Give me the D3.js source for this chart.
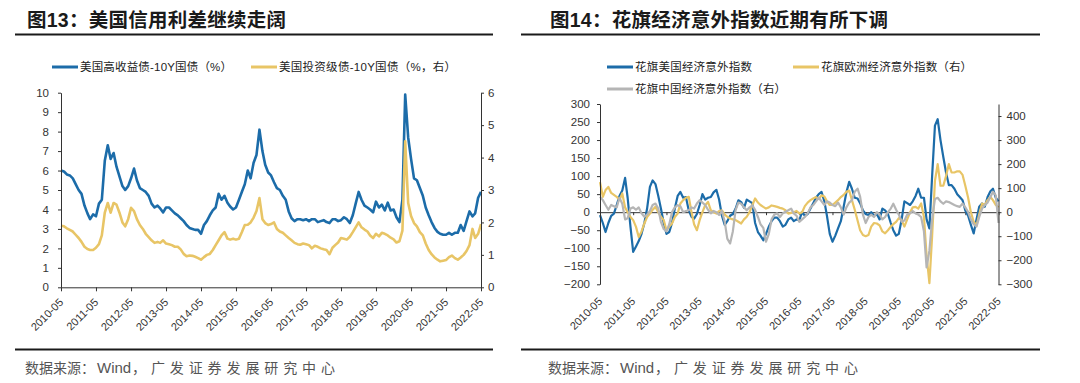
<!DOCTYPE html>
<html>
<head>
<meta charset="utf-8">
<script src="https://cdn.jsdelivr.net/npm/d3@7"></script>
<style>
  body { margin: 0; background: #fff; }
  svg { display: block; }
  text { font-family: "Liberation Sans", "Noto Sans CJK SC", sans-serif; }
</style>
</head>
<body>
<svg id="chart" width="1080" height="383"></svg>
<script>
// Données (lecture approximative du graphique, valeurs mensuelles 2010-05 -> 2022-05)
const tickLabels = ["2010-05", "2011-05", "2012-05", "2013-05", "2014-05", "2015-05", "2016-05",
  "2017-05", "2018-05", "2019-05", "2020-05", "2021-05", "2022-05"];

// 美国高收益债-10Y国债 (%)
const hySpread = [
  6.0, 5.95, 5.8, 5.75, 5.6, 5.3, 5.0, 4.8, 4.2, 3.8, 3.5, 3.75,
  3.65, 4.3, 4.5, 6.5, 7.3, 6.6, 6.9, 6.2, 5.7, 5.2, 5.0, 5.2,
  5.6, 6.1, 5.5, 5.1, 5.0, 4.9, 4.7, 4.3, 4.1, 4.2, 4.05, 3.85,
  4.1, 4.1, 3.95, 3.8, 3.7, 3.55, 3.4, 3.2, 3.05, 3.0, 2.95, 2.95,
  2.75, 3.2, 3.4, 3.7, 3.95, 4.1, 4.8, 4.5, 4.7, 4.35, 4.15, 4.0,
  4.1, 4.5, 4.9, 5.3, 6.0, 5.6, 6.4, 6.8, 8.1, 7.0, 6.3, 5.9,
  5.75, 5.4, 5.1, 5.0, 4.7, 4.5, 3.9, 3.55, 3.4, 3.5, 3.5, 3.45,
  3.5, 3.4, 3.5, 3.5, 3.35, 3.4, 3.45, 3.35, 3.3, 3.5, 3.5, 3.4,
  3.45, 3.6, 3.5, 3.3, 3.7, 4.3, 4.9, 4.5, 4.2, 4.1, 4.0, 3.85,
  4.4, 4.1, 4.25, 3.95, 4.35, 3.95, 4.0, 3.6, 3.35, 4.5, 9.9, 7.7,
  6.6, 5.6, 5.5, 5.1, 4.7, 4.1, 3.7, 3.35, 3.05, 2.85, 2.75, 2.7,
  2.7, 2.8, 2.7, 2.8, 2.8, 3.2, 2.9, 3.4, 3.9, 3.65, 3.8, 4.6,
  4.9
];

// 美国投资级债-10Y国债 (%, 右)
const igSpread = [
  1.9, 1.88, 1.82, 1.77, 1.72, 1.62, 1.52, 1.4, 1.25, 1.18, 1.15, 1.15,
  1.22, 1.33, 1.6, 2.3, 2.6, 2.3, 2.6, 2.55, 2.3, 2.0, 1.88, 2.1,
  2.45, 2.35, 2.1, 1.92, 1.8, 1.65, 1.55, 1.45, 1.37, 1.4, 1.37, 1.45,
  1.35, 1.33, 1.3, 1.25, 1.25, 1.17, 1.03, 0.96, 0.98, 0.97, 0.94, 0.9,
  0.85, 0.93, 1.0, 1.03, 1.15, 1.3, 1.45, 1.6, 1.7, 1.5, 1.47, 1.5,
  1.47, 1.5, 1.7, 1.92, 1.93, 2.0, 2.15, 2.35, 2.75, 2.1, 1.98, 1.92,
  1.95, 2.0, 1.8, 1.72, 1.68, 1.6, 1.52, 1.45, 1.37, 1.33, 1.31, 1.35,
  1.33, 1.3, 1.2, 1.28, 1.25, 1.2, 1.17, 1.15, 1.02, 1.22, 1.3, 1.38,
  1.52, 1.5, 1.47, 1.56, 1.7, 1.85, 2.0, 1.85, 1.78, 1.72, 1.6, 1.52,
  1.65, 1.57, 1.68, 1.65, 1.6, 1.53, 1.48, 1.38, 1.42, 1.75, 4.5, 2.6,
  2.2, 1.98, 1.88, 1.7, 1.6, 1.35, 1.15, 1.02, 0.92, 0.85, 0.8, 0.82,
  0.84, 0.93, 0.98, 0.9, 0.85, 0.92, 1.0, 1.12, 1.3, 1.8, 1.52, 1.65,
  1.95
];

// 花旗美国经济意外指数 (左)
const usSurprise = [
  -8, -30, -55, -30, -10, -4, 20, 45, 60, 95, 40, -40,
  -110, -95, -80, -60, -30, 10, 70, 88, 78, 45, 10, -30,
  -60, -55, -30, 10, 45, 56, 40, 42, 5, -13, -18, -5,
  20, 50, 35, 40, 42, 55, 62, 35, -10, -35, -25, -10,
  -5, 10, 33, 28, 12, 35, 30, 25, -30, -55, -65, -78,
  -60, -40, -25, -15, -15, -25, -40, -35, -20, -15, -25, -20,
  -22, 0, -10, -5, 10, 25, 40, 50, 56, 30, -10, -60,
  -82, -65, -45, -25, 15, 55, 84, 65, 40, 38, 25, 5,
  -5, -8, 0, -10, -5, -20, 10, 5, -5, -30, -50, -65,
  -60, -20, 30, 25, 20, 30, 45, 65, 40, 40, -20, -45,
  100, 240, 258, 200, 153, 110, 75, 75, 65, 50, 42, 33,
  5, -10, -35, -59, -20, 15, 24, 15, 42, 58, 65, 40,
  30
];

// 花旗欧洲经济意外指数 (右)
const euSurprise = [
  125, 64, 92, 105, 80, 72, 64, 50, 78, 20, 0, -20,
  -33, -61, -103, -80, -47, -20, -6, 10, 22, 0, -19, -33,
  -75, -60, -47, -20, -6, 36, 50, 60, 64, 0, -50, -75,
  -33, 0, 29, 43, 8, 0, -6, 5, 8, -10, -19, -26,
  -30, -33, -40, -47, -30, -19, 0, 29, 57, 40, 30, 22,
  15, 20, 28, 25, 22, 18, 15, 8, -6, -3, 0, 5,
  -5, 0, 25, 40, 50, 57, 63, 55, 70, 65, 45, 30,
  30, 40, 50, 63, 72, 85, 90, 50, 10, -35, -75, -95,
  -100, -95, -60, -45, -47, -55, -80, -88, -75, -60, -50, -40,
  -25, -33, -60, -30, 0, 20, 22, 15, 36, -19, -180, -295,
  -100, 130, 200, 110, 110, 150, 200, 165, 165, 170, 170, 155,
  110, 60, 0, -40, -55, -10, 36, 30, 50, 63, 50, 30,
  20
];

// 花旗中国经济意外指数 (右)
const cnSurprise = [
  64, 50, 30, 10, 30, 25, 20, 60, 35, -30, -25, 15,
  20, 10, 20, -5, -19, -10, 5, 30, 36, 15, -40, -70,
  -80, -50, 0, 20, 29, 25, 0, 5, 8, 20, 15, 36,
  50, 40, 30, 10, -5, 5, 0, -12, 5, -40, -110, -130,
  -80, 10, 40, 35, 20, 8, 20, 28, 10, -20, -50, -65,
  -123, -90, -30, -10, -5, -20, -5, 2, 8, 15, -5, -15,
  -40, -30, -20, -5, 20, 30, 45, 60, 45, 30, 45, 40,
  30, 25, 40, 20, -10, 20, 40, 50, 85, 98, 65, -10,
  -45, -20, -10, -20, 0, -10, -30, -20, 0, 15, 35, 10,
  -10, -40, -35, -10, -5, 5, -5, -10, -20, -80, -230, -160,
  -30, 55, 60, 45, 35, 45, 42, 36, 30, 25, 22, 36,
  20, 0, -30, -50, -60, -20, 15, 30, 40, 63, 85, 70,
  -45
];

const parseMonth = d3.timeParse("%Y-%m");
const tickDates = tickLabels.map(parseMonth);
const months = d3.timeMonth.range(tickDates[0], d3.timeMonth.offset(tickDates[12], 1));

const blue = "#1c6ca9", yellow = "#e8c566", grey = "#b5b5b5", ink = "#333";

const svg = d3.select("#chart");

// Titres, filets et sources
function frame(x0, x1, xTitle, titleWidth, title, xSrc) {
  svg.append("text")
    .attr("x", xTitle).attr("y", 27)
    .attr("textLength", titleWidth).attr("lengthAdjust", "spacing")
    .style("font-size", "19.5px").style("font-weight", "bold").style("fill", "#1a1a1a")
    .text(title);
  [34.5, 349.5].forEach(y => svg.append("line")
    .attr("x1", x0).attr("x2", x1).attr("y1", y).attr("y2", y)
    .style("stroke", "#1a1a1a").style("stroke-width", 2));

  const src = svg.append("text").attr("y", 373)
    .style("font-size", "14px").style("fill", "#555");
  src.append("tspan").attr("x", xSrc).text("数据来源：");
  src.append("tspan").attr("x", xSrc + 72).style("font-size", "15px").text("Wind");
  src.append("tspan").attr("x", xSrc + 107)
    .attr("textLength", 203).attr("lengthAdjust", "spacing")
    .text("，广发证券发展研究中心");
}
frame(15, 493, 27, 259, "图13：美国信用利差继续走阔", 25);
frame(521, 1040, 550, 338, "图14：花旗经济意外指数近期有所下调", 548);

function legendItem(x, y, color, label, width) {
  svg.append("line")
    .attr("x1", x).attr("x2", x + 26).attr("y1", y).attr("y2", y)
    .style("stroke", color).style("stroke-width", 3);
  svg.append("text")
    .attr("x", x + 28).attr("y", y).attr("dy", "0.36em")
    .attr("textLength", width).attr("lengthAdjust", "spacing")
    .style("font-size", "11.5px").style("fill", "#222")
    .text(label);
}

function styleAxis(g) {
  g.select(".domain").attr("stroke", ink);
  g.selectAll(".tick line").attr("stroke", ink);
  g.selectAll(".tick text").style("font-size", "11.5px").style("fill", ink)
    .style("font-family", "'Liberation Sans', Arial, sans-serif");
}

function dateLabels(x, y) {
  svg.append("g").selectAll("text")
    .data(tickDates)
    .join("text")
    .attr("transform", d => `translate(${x(d) + 3},${y}) rotate(-45)`)
    .attr("text-anchor", "end")
    .style("font-size", "11px").style("fill", ink)
    .text((d, i) => tickLabels[i]);
}

// ---------- Graphique 13 ----------
const x1 = d3.scaleTime().domain([tickDates[0], tickDates[12]]).range([61, 481]);
const y1L = d3.scaleLinear().domain([0, 10]).range([287.3, 92.7]);
const y1R = d3.scaleLinear().domain([0, 6]).range([287.3, 92.7]);

legendItem(52, 67, blue, "美国高收益债-10Y国债（%）", 152);
legendItem(251, 67, yellow, "美国投资级债-10Y国债（%，右）", 177);

svg.append("path")
  .datum(months)
  .attr("d", d3.line().x(d => x1(d)).y((d, i) => y1L(hySpread[i])))
  .style("fill", "none").style("stroke", blue).style("stroke-width", 2.6)
  .style("stroke-linejoin", "round");

svg.append("path")
  .datum(months)
  .attr("d", d3.line().x(d => x1(d)).y((d, i) => y1R(igSpread[i])))
  .style("fill", "none").style("stroke", yellow).style("stroke-width", 2.6)
  .style("stroke-linejoin", "round");

svg.append("g").attr("transform", "translate(61,0)")
  .call(d3.axisLeft(y1L).tickValues(d3.range(0, 11)).tickSize(3).tickSizeOuter(0).tickPadding(9))
  .call(styleAxis);
svg.append("g").attr("transform", "translate(481,0)")
  .call(d3.axisRight(y1R).tickValues(d3.range(0, 7)).tickSize(3).tickSizeOuter(0).tickPadding(4)
    .tickFormat(d3.format("d")))
  .call(styleAxis);
svg.append("g").attr("transform", `translate(0,${y1L(0)})`)
  .call(d3.axisBottom(x1).tickValues(tickDates).tickSize(4).tickSizeOuter(0).tickFormat(""))
  .call(styleAxis);
dateLabels(x1, 303);

// ---------- Graphique 14 ----------
const x2 = d3.scaleTime().domain([tickDates[0], tickDates[12]]).range([600, 998.5]);
const y2L = d3.scaleLinear().domain([-200, 300]).range([284.3, 104]);
const y2R = d3.scaleLinear().domain([-300, 450]).range([284.3, 104]);

legendItem(607, 67, blue, "花旗美国经济意外指数", 117);
legendItem(793, 67, yellow, "花旗欧洲经济意外指数（右）", 151);
legendItem(607, 89, grey, "花旗中国经济意外指数（右）", 151);

svg.append("g").attr("transform", `translate(0,${y2L(0)})`)
  .call(d3.axisBottom(x2).tickValues(tickDates).tickSize(3).tickSizeOuter(0).tickFormat(""))
  .call(styleAxis);

const series2 = [
  { values: usSurprise, y: y2L, color: blue },
  { values: euSurprise, y: y2R, color: yellow },
  { values: cnSurprise, y: y2R, color: grey }
];
series2.forEach(s => {
  svg.append("path")
    .datum(months)
    .attr("d", d3.line().x(d => x2(d)).y((d, i) => s.y(s.values[i])))
    .style("fill", "none").style("stroke", s.color).style("stroke-width", 2.2)
    .style("stroke-linejoin", "round");
});

svg.append("g").attr("transform", "translate(600,0)")
  .call(d3.axisLeft(y2L).tickValues(d3.range(-200, 301, 50)).tickSize(3).tickSizeOuter(0).tickPadding(7))
  .call(styleAxis);
svg.append("g").attr("transform", "translate(998.5,0)")
  .call(d3.axisRight(y2R).tickValues(d3.range(-300, 401, 100)).tickSize(3).tickSizeOuter(0).tickPadding(5))
  .call(styleAxis);
dateLabels(x2, 302);
</script>
</body>
</html>
